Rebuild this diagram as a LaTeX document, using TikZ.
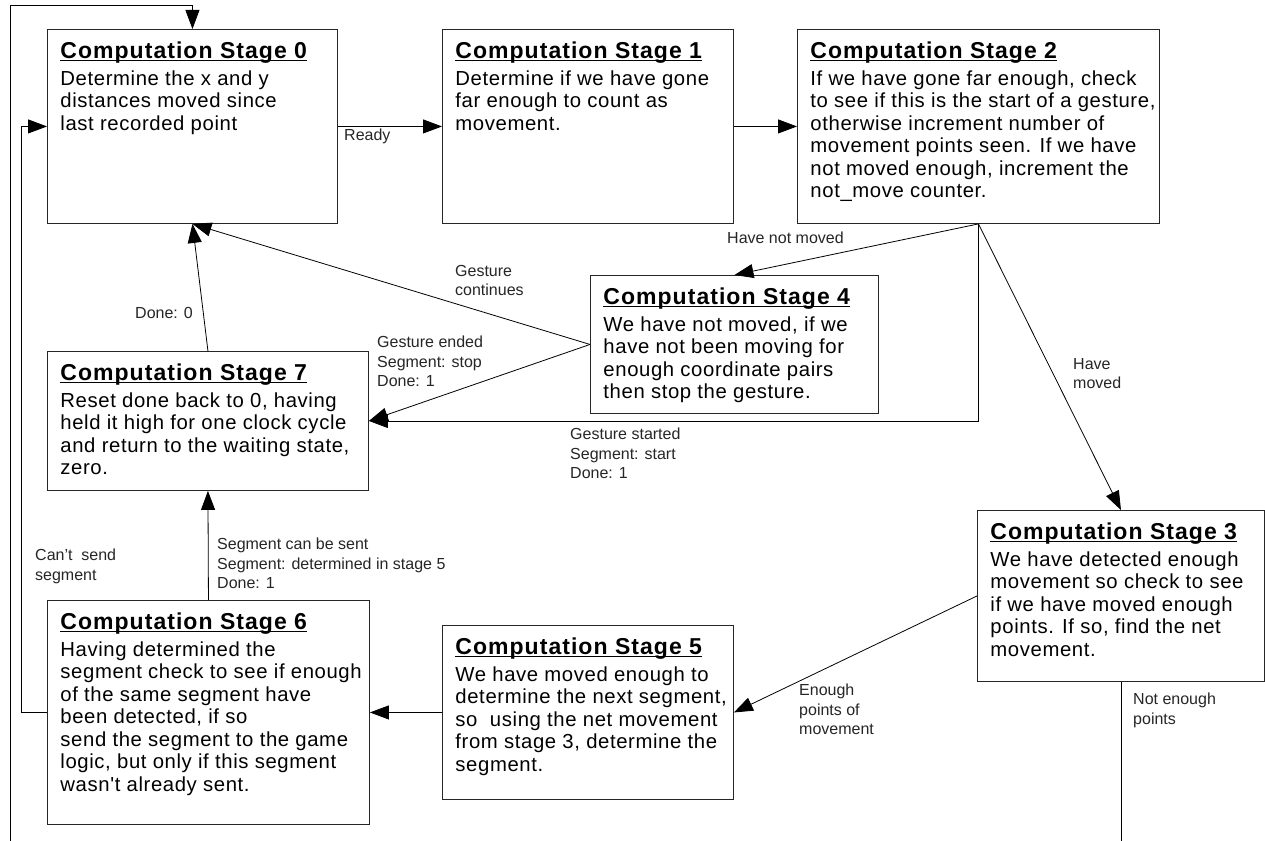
\documentclass[tikz,border=0pt]{standalone}
\usepackage{fontspec}
\setmainfont{Liberation Sans}
\newfontfamily\boxfont[LetterSpace=3]{Liberation Sans}
\newfontfamily\headfont[LetterSpace=4.5]{Liberation Sans}
\usetikzlibrary{arrows.meta}

% underlined heading and top aligned body of a stage box
\newcommand{\stagehead}[1]{\setbox0=\hbox{\headfont\fontsize{23}{28}\selectfont\bfseries Computation Stage #1}\rule{0pt}{29pt}\rlap{\rule[-2.5pt]{\wd0}{1.3pt}}\box0}
\newcommand{\stagetext}[4]{\parbox[c][#2][t]{#1}{\stagehead{#3}\par\vspace{4.5pt}\boxfont\fontsize{20.3}{22.5}\selectfont\begin{tabular}[t]{@{}l@{}}#4\end{tabular}}}

\begin{document}
\begin{tikzpicture}[x=1pt,y=-1pt,
    stage/.style={draw=black!85,line width=0.9pt,anchor=north west,inner xsep=13pt,inner ysep=0pt,fill=white},
    lbl/.style={anchor=north west,inner sep=0pt,align=left,text=black!85,font=\fontsize{16}{19.5}\selectfont},
    arr/.style={draw,line width=0.8pt,-{Triangle[length=19pt,width=14pt]}}]
  \useasboundingbox (0,0) rectangle (1265,840);
  \fill[white] (0,0) rectangle (1265,840);
  \clip (0,0) rectangle (1265,840);

  \node[stage] (s0) at (47,29) {\stagetext{264pt}{194pt}{0}{Determine the x and y\\distances moved since\\last recorded point}};
  \node[stage] (s1) at (442,29) {\stagetext{265pt}{194pt}{1}{Determine if we have gone\\far enough to count as\\movement.}};
  \node[stage] (s2) at (797,29) {\stagetext{336pt}{194pt}{2}{If we have gone far enough, check\\to see if this is the start of a gesture,\\otherwise increment number of\\movement points seen. If we have\\not moved enough, increment the\\not\_move counter.}};
  \node[stage] (s4) at (590,275) {\stagetext{262pt}{138pt}{4}{We have not moved, if we\\have not been moving for\\enough coordinate pairs\\then stop the gesture.}};
  \node[stage] (s7) at (47,351) {\stagetext{295pt}{139pt}{7}{Reset done back to 0, having\\held it high for one clock cycle\\and return to the waiting state,\\zero.}};
  \node[stage] (s3) at (977,510) {\stagetext{261pt}{171pt}{3}{We have detected enough\\movement so check to see\\if we have moved enough\\points. If so, find the net\\movement.}};
  \node[stage] (s5) at (442,625) {\stagetext{265pt}{174pt}{5}{We have moved enough to\\determine the next segment,\\so\ \ using the net movement\\from stage 3, determine the\\segment.}};
  \node[stage] (s6) at (47,600) {\stagetext{296pt}{224pt}{6}{Having determined the\\segment check to see if enough\\of the same segment have\\been detected, if so\\send the segment to the game\\logic, but only if this segment\\wasn't already sent.}};

  % corners of the outer loop back to stage 0
  \coordinate (loopbl) at (10,850);
  \coordinate (looptl) at (10,5);

  \draw[arr] (s0) -- (s1);
  \draw[arr] (s1) -- (s2);
  \draw[arr] (s2.south) -- (s4.north);
  \draw[arr] (s2.south) -- (s3.north);
  \draw[arr] (s2.south) -- (s2.south |- s7.east) -- (s7.east);
  \draw[arr] (s4.west) -- (s0.south);
  \draw[arr] (s4.west) -- (s7.east);
  \draw[arr] (s7.north) -- (s0.south);
  \draw[arr] (s6.north) -- (s7.south);
  \draw[arr] (s3.west) -- (s5.east);
  \draw[arr] (s5.west) -- (s6.east);
  \draw[arr] (s6.west) -- ++(-26,0) |- (s0.west);
  \draw[arr] (s3.south) |- (loopbl) -- (looptl) -| (s0.north);

  \node[lbl] (lready) at (344,129) {Ready};
  \node[lbl] (lnotmoved) at (727,232) {Have not moved};
  \node[lbl] (lmoved) at (1073,358) {Have\\moved};
  \node[lbl] (lcont) at (455,265) {Gesture\\continues};
  \node[lbl] (lended) at (377,336) {Gesture ended\\Segment: stop\\Done: 1};
  \node[lbl] (ldone) at (135,307) {Done: 0};
  \node[lbl] (lstarted) at (570,428) {Gesture started\\Segment: start\\Done: 1};
  \node[lbl] (lsent) at (217,538) {Segment can be sent\\Segment: determined in stage 5\\Done: 1};
  \node[lbl] (lcant) at (35,549) {Can't\ \ send\\segment};
  \node[lbl] (lenough) at (799,684) {Enough\\points of\\movement};
  \node[lbl] (lnotenough) at (1133,693) {Not enough\\points};
\end{tikzpicture}
\end{document}
